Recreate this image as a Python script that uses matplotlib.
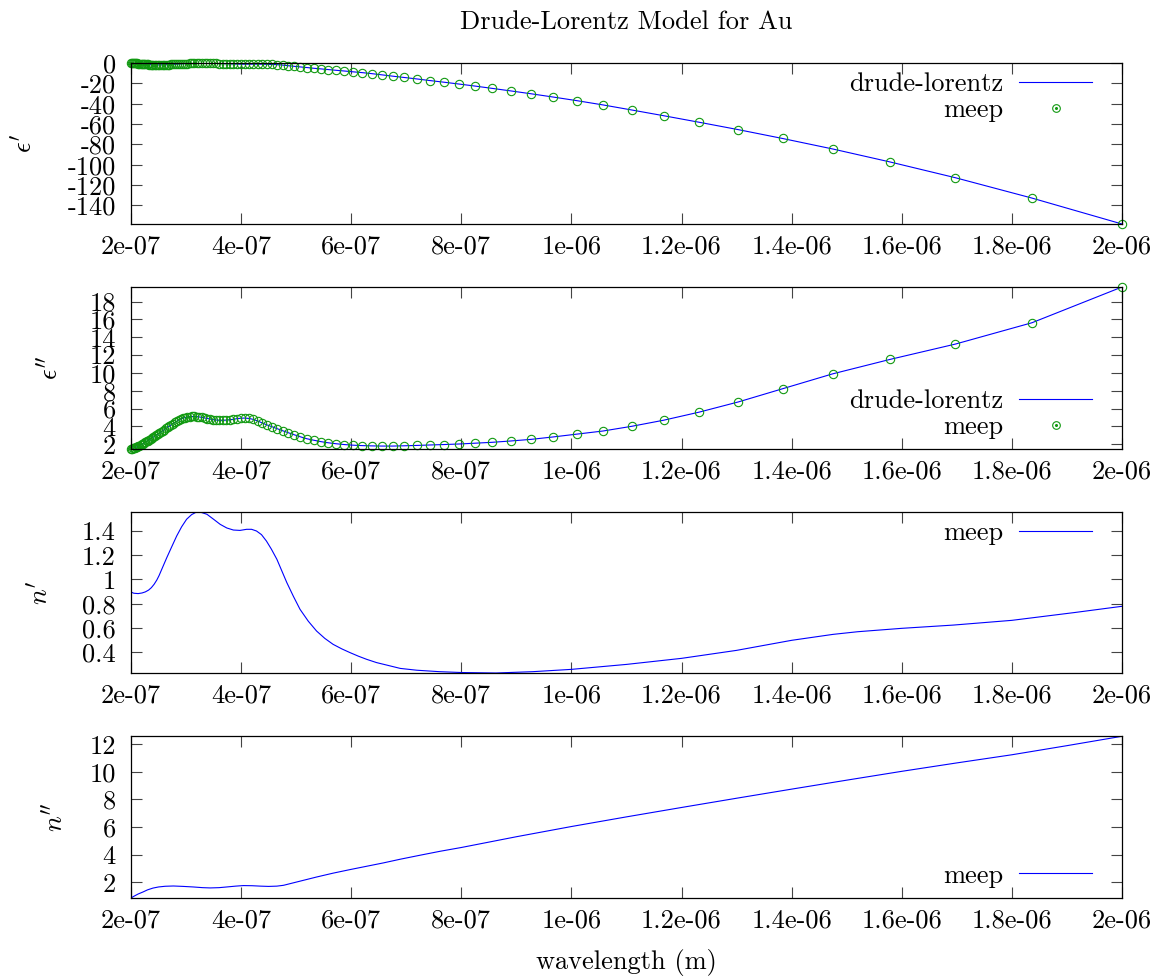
import numpy as np
import matplotlib.pyplot as plt
from matplotlib.ticker import FormatStrFormatter, MultipleLocator
from matplotlib.lines import Line2D
from matplotlib.legend_handler import HandlerTuple

plt.rcParams['font.family'] = 'cmr10'
plt.rcParams['mathtext.fontset'] = 'cm'
plt.rcParams['axes.unicode_minus'] = False
plt.rcParams['font.size'] = 19

# meep sample wavelengths (um), long -> short
wl_meep = [2.0000, 1.8364, 1.6975, 1.5781, 1.4745, 1.3836, 1.3032, 1.2317, 1.1676, 1.1099,
           1.0576, 1.0100, 0.96651, 0.92661, 0.88987, 0.85593, 0.82449, 0.79527, 0.76806, 0.74265,
           0.71887, 0.69655, 0.67559, 0.65584, 0.63722, 0.61963, 0.60298, 0.58721, 0.57224, 0.55802,
           0.54448, 0.53158, 0.51928, 0.50754, 0.49631, 0.48557, 0.47529, 0.46544, 0.45598, 0.44690,
           0.43818, 0.42979, 0.42171, 0.41394, 0.40644, 0.39921, 0.39223, 0.38550, 0.37899, 0.37269,
           0.36661, 0.36071, 0.35501, 0.34948, 0.34412, 0.33893, 0.33389, 0.32899, 0.32424, 0.31962,
           0.31513, 0.31077, 0.30652, 0.30239, 0.29837, 0.29446, 0.29065, 0.28693, 0.28331, 0.27978,
           0.27633, 0.27297, 0.26969, 0.26649, 0.26336, 0.26031, 0.25732, 0.25441, 0.25156, 0.24877,
           0.24604, 0.24337, 0.24076, 0.23821, 0.23571, 0.23326, 0.23086, 0.22850, 0.22620, 0.22395,
           0.22173, 0.21957, 0.21744, 0.21535, 0.21331, 0.21130, 0.20933, 0.20739, 0.20549, 0.20363,
           0.20180, 0.20000]

eps_re = [-158.3, -132.8, -112.8, -97.2, -84.5, -74.2, -65.5, -58.2, -51.8, -46.2,
          -41.2, -37.0, -33.4, -30.2, -27.4, -24.9, -22.6, -20.6, -18.8, -17.2,
          -15.6, -14.2, -12.9, -11.6, -10.4, -9.4, -8.6, -7.8, -7.1, -6.4,
          -5.7, -5.1, -4.4, -3.8, -3.2, -2.6, -2.0, -1.6, -1.4, -1.2,
          -1.1, -1.05, -1.07, -1.08, -1.10, -1.09, -1.0, -0.90, -0.81, -0.70,
          -0.59, -0.48, -0.37, -0.30, -0.23, -0.18, -0.18, -0.17, -0.19, -0.22,
          -0.28, -0.34, -0.43, -0.51, -0.62, -0.75, -0.86, -0.99, -1.09, -1.20,
          -1.30, -1.41, -1.49, -1.56, -1.62, -1.67, -1.72, -1.75, -1.78, -1.79,
          -1.78, -1.75, -1.69, -1.64, -1.58, -1.46, -1.33, -1.25, -1.12, -0.99,
          -0.87, -0.77, -0.65, -0.56, -0.45, -0.36, -0.30, -0.24, -0.18, -0.09,
          -0.01, 0.06]

eps_im = [19.64, 15.63, 13.24, 11.51, 9.90, 8.23, 6.75, 5.60, 4.70, 4.02,
          3.49, 3.14, 2.82, 2.55, 2.37, 2.22, 2.12, 2.03, 1.97, 1.92,
          1.87, 1.83, 1.80, 1.80, 1.82, 1.85, 1.90, 1.97, 2.06, 2.17,
          2.30, 2.46, 2.62, 2.84, 3.07, 3.30, 3.52, 3.75, 3.97, 4.17,
          4.40, 4.62, 4.80, 4.90, 4.94, 4.92, 4.87, 4.80, 4.75, 4.71,
          4.69, 4.69, 4.72, 4.76, 4.82, 4.89, 4.95, 5.01, 5.06, 5.10,
          5.12, 5.12, 5.10, 5.06, 5.00, 4.93, 4.84, 4.74, 4.58, 4.45,
          4.32, 4.18, 4.04, 3.90, 3.77, 3.63, 3.50, 3.37, 3.25, 3.13,
          3.02, 2.91, 2.81, 2.71, 2.61, 2.51, 2.42, 2.33, 2.24, 2.15,
          2.07, 1.99, 1.92, 1.85, 1.79, 1.73, 1.68, 1.63, 1.58, 1.54,
          1.50, 1.47]

# refractive index, real part
wl_nre = [0.200, 0.205, 0.213, 0.220, 0.226, 0.232, 0.237, 0.242, 0.247, 0.251,
          0.256, 0.265, 0.274,
          0.283, 0.292, 0.301, 0.310, 0.319, 0.328, 0.338, 0.350, 0.362, 0.374,
          0.386, 0.398, 0.410, 0.419, 0.428, 0.437, 0.446, 0.455, 0.465, 0.474,
          0.483, 0.495, 0.507, 0.522, 0.537, 0.552, 0.567, 0.583, 0.598, 0.613,
          0.628, 0.646, 0.664, 0.689, 0.719, 0.760, 0.800, 0.863, 0.930, 1.000,
          1.100, 1.200, 1.300, 1.400, 1.475, 1.520, 1.600, 1.694, 1.800, 1.913, 2.000]
n_re = [0.896, 0.886, 0.883, 0.888, 0.897, 0.912, 0.932, 0.960, 0.996, 1.032,
        1.085, 1.180, 1.270,
        1.359, 1.435, 1.497, 1.535, 1.557, 1.553, 1.538, 1.497, 1.455, 1.425,
        1.408, 1.405, 1.414, 1.414, 1.400, 1.370, 1.317, 1.250, 1.166, 1.070,
        0.974, 0.860, 0.753, 0.655, 0.574, 0.513, 0.464, 0.426, 0.395, 0.366,
        0.340, 0.313, 0.293, 0.265, 0.250, 0.238, 0.231, 0.227, 0.238, 0.257,
        0.298, 0.348, 0.414, 0.497, 0.546, 0.568, 0.596, 0.623, 0.662, 0.726, 0.778]

# refractive index, imaginary part
wl_nim = [0.200, 0.205, 0.213, 0.222, 0.230, 0.240, 0.250, 0.262, 0.277, 0.295,
          0.313, 0.330, 0.344, 0.360, 0.374, 0.390, 0.404, 0.420, 0.435, 0.450,
          0.465, 0.477, 0.489, 0.505, 0.520, 0.537, 0.567, 0.598, 0.628, 0.658,
          0.689, 0.725, 0.762, 0.800, 0.900, 1.000, 1.100, 1.200, 1.300, 1.400,
          1.500, 1.600, 1.700, 1.800, 1.900, 2.000]
n_im = [0.86, 0.98, 1.15, 1.30, 1.45, 1.58, 1.66, 1.71, 1.73, 1.70,
        1.66, 1.61, 1.59, 1.61, 1.66, 1.72, 1.76, 1.75, 1.72, 1.70,
        1.72, 1.78, 1.90, 2.06, 2.21, 2.38, 2.66, 2.92, 3.16, 3.40,
        3.67, 3.96, 4.25, 4.52, 5.30, 6.04, 6.74, 7.42, 8.09, 8.75,
        9.40, 10.04, 10.65, 11.24, 11.90, 12.58]

xticks = [2e-7, 4e-7, 6e-7, 8e-7, 1e-6, 1.2e-6, 1.4e-6, 1.6e-6, 1.8e-6, 2e-6]

blue = '#0000ff'
green = '#119911'

fig = plt.figure(figsize=(11.57, 9.76), dpi=100)

L, W = 131/1157, 991/1157
boxes = [(224, 161), (449, 162), (673, 161), (898, 162)]
axes = [fig.add_axes([L, 1 - b/976, W, h/976]) for b, h in boxes]

wm = np.array(wl_meep) * 1e-6

ax1, ax2, ax3, ax4 = axes
ax1.plot(wm, eps_re, color=blue, lw=0.8)
ax1.plot(wm, eps_re, ls='none', marker='o', mfc='none', mec=green, ms=6, mew=0.8, clip_on=False)
ax1.set_ylim(-158.3, 0.06)
ax1.yaxis.set_major_locator(MultipleLocator(20))

ax2.plot(wm, eps_im, color=blue, lw=0.8)
ax2.plot(wm, eps_im, ls='none', marker='o', mfc='none', mec=green, ms=6, mew=0.8, clip_on=False)
ax2.set_ylim(1.47, 19.64)
ax2.yaxis.set_major_locator(MultipleLocator(2))

ax3.plot(np.array(wl_nre) * 1e-6, n_re, color=blue, lw=0.8)
ax3.set_ylim(0.227, 1.557)
ax3.yaxis.set_major_locator(MultipleLocator(0.2))

ax4.plot(np.array(wl_nim) * 1e-6, n_im, color=blue, lw=0.8)
ax4.set_ylim(0.86, 12.6)
ax4.yaxis.set_major_locator(MultipleLocator(2))

ylabels = [r"$\epsilon'$", r"$\epsilon''$", r"$n'$", r"$n''$"]
ylab_x = [24, 50, 40, 55]
for ax, lab, lx in zip(axes, ylabels, ylab_x):
    ax.set_xlim(2e-7, 2e-6)
    ax.set_xticks(xticks)
    ax.xaxis.set_major_formatter(FormatStrFormatter('%g'))
    ax.yaxis.set_major_formatter(FormatStrFormatter('%g'))
    ax.tick_params(direction='in', length=8, width=0.8, color='#444444',
                   top=True, right=True)
    ax.tick_params(axis='x', pad=8)
    ax.tick_params(axis='y', pad=11)
    for s in ax.spines.values():
        s.set_linewidth(0.9)
    ax.set_ylabel(lab, va='center', ha='center')
    ax.yaxis.set_label_coords((lx - 131) / 991, 0.5)

h_line = Line2D([], [], color=blue, lw=0.8)
h_circ = Line2D([], [], ls='none', marker='o', mfc='none', mec=green, ms=5.5, mew=0.8)
h_dot = Line2D([], [], ls='none', marker='o', mfc=green, mec=green, ms=1.2)

leg_kw = dict(frameon=False, markerfirst=False, loc='center right',
              borderaxespad=0, borderpad=0, handlelength=2.75,
              handletextpad=0.62, labelspacing=0.08,
              handler_map={tuple: HandlerTuple(ndivide=1, pad=0)})
ax1.legend([h_line, (h_circ, h_dot)], ['drude-lorentz', 'meep'],
           bbox_to_anchor=(0.9697, 0.786), **leg_kw)
ax2.legend([h_line, (h_circ, h_dot)], ['drude-lorentz', 'meep'],
           bbox_to_anchor=(0.9697, 0.216), **leg_kw)
ax3.legend([h_line], ['meep'], bbox_to_anchor=(0.9697, 0.868), **leg_kw)
ax4.legend([h_line], ['meep'], bbox_to_anchor=(0.9697, 0.138), **leg_kw)

fig.text(626.5/1157, 1 - 22/976, 'Drude-Lorentz Model for Au', ha='center', va='center')
fig.text(626.5/1157, 1 - 962/976, 'wavelength (m)', ha='center', va='center')

fig.savefig('out.png', dpi=100)
